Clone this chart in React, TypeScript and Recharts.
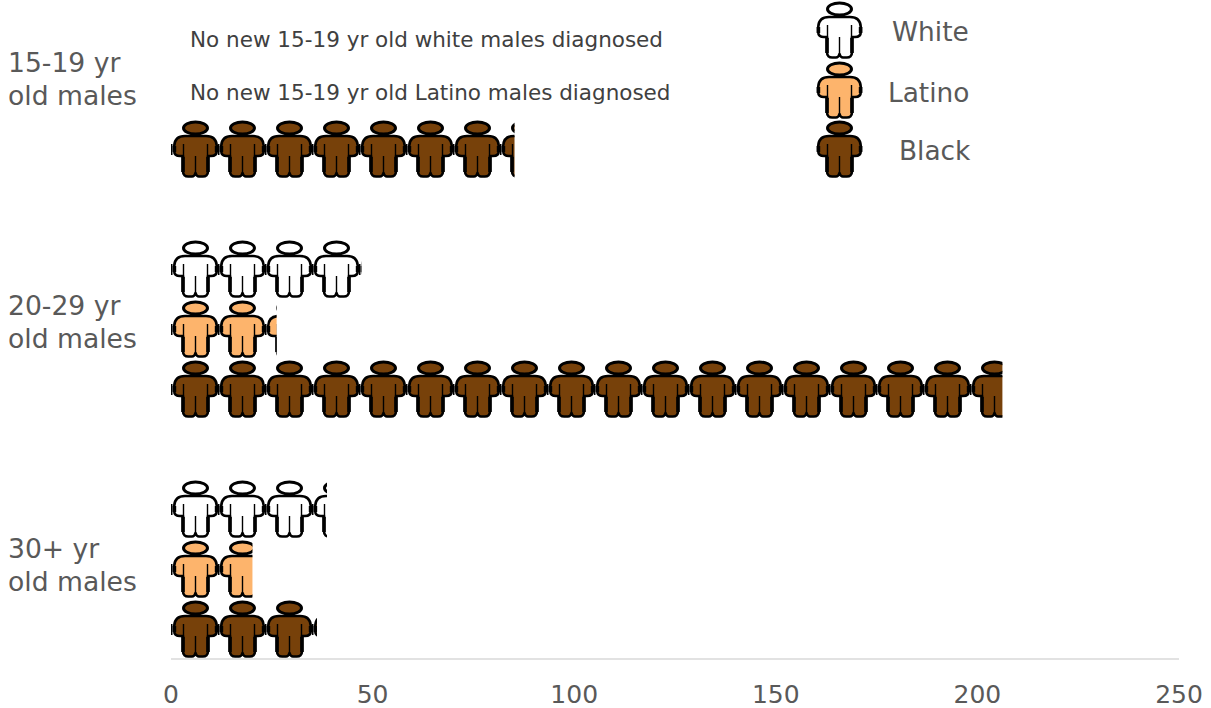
import { useId } from 'react'
import { BarChart, Bar, XAxis, YAxis, Legend } from 'recharts'

const ageGroups = ['15-19 yr|old males', '20-29 yr|old males', '30+ yr|old males']
const ageLabelShift = [-1.5, 2, 4.5]
const whiteCases = [0, 47.2, 38.7]
const latinoCases = [0, 26.2, 20.2]
const blackCases = [85.2, 206.2, 36.2]
const xTicks = [0, 50, 100, 150, 200, 250]
const noteLines = [
  'No new 15-19 yr old white males diagnosed',
  'No new 15-19 yr old Latino males diagnosed',
]

const WHITE = '#ffffff'
const LATINO = '#fdb46c'
const BLACK = '#77410a'
const TEXT = '#595959'
const FONT = '"DejaVu Sans", Verdana, sans-serif'
const ICON_STEP = 47

const data = ageGroups.map((group, i) => ({
  group,
  white: whiteCases[i],
  latino: latinoCases[i],
  black: blackCases[i],
}))

function Person({ x, y, fill }: { x: number; y: number; fill: string }) {
  return (
    <g transform={`translate(${x},${y})`}>
      <ellipse cx={24.5} cy={9} rx={12} ry={6} fill={fill} stroke="#000" strokeWidth={3} />
      <path
        d="M14 17H35C42 17 45.5 21 45.8 27V32Q45.8 37 40 37H37V52Q37 58 31 57.5H28Q25.5 57.5 24.5 54Q23.5 57.5 21 57.5H18Q12 58 12 52V37H9Q3.2 37 3.2 32V27C3.5 21 7 17 14 17Z"
        fill={fill}
        stroke="#000"
        strokeWidth={2.6}
        strokeLinejoin="round"
      />
      <path d="M12.5 25V40M36.5 25V40M24.5 37V54" fill="none" stroke="#000" strokeWidth={1.4} />
      <path d="M12 38V53M37 38V53M3.4 27V33M45.6 27V33" fill="none" stroke="#000" strokeWidth={3.6} />
    </g>
  )
}

// repeats the figure along the bar and cuts it off at the bar's end
function PersonBar(props: any) {
  const { x, y, width, height, fill } = props
  const clipId = useId()
  if (!width) return null
  const count = Math.ceil(width / ICON_STEP)
  return (
    <g clipPath={`url(#${clipId})`}>
      <defs>
        <clipPath id={clipId}>
          <rect x={x} y={y} width={width} height={height} />
        </clipPath>
      </defs>
      {Array.from({ length: count }, (_, i) => (
        <g key={i}>
          <rect x={x + i * ICON_STEP} y={y + 25} width={1.5} height={11} fill="#000" />
          <Person x={x + i * ICON_STEP} y={y} fill={fill} />
        </g>
      ))}
    </g>
  )
}

function AgeTick({ y, index, payload }: any) {
  const [first, second] = String(payload.value).split('|')
  return (
    <text x={8} y={y + 22 + ageLabelShift[index]} fontFamily={FONT} fontSize={26.6} fill={TEXT}>
      <tspan x={8} dy={-8}>{first}</tspan>
      <tspan x={8} dy={33}>{second}</tspan>
    </text>
  )
}

const legendTextX: Record<string, number> = { White: 892, Latino: 888, Black: 899 }
const legendRowY: Record<string, number> = { White: 0, Latino: 60, Black: 119 }
const legendTextY: Record<string, number> = { White: 41, Latino: 102, Black: 160 }

function PersonLegend({ payload }: any) {
  const items = (payload || []).filter((item: any) => item.value in legendRowY)
  return (
    <svg width={1211} height={185} style={{ display: 'block' }}>
      {items.map((item: any) => (
        <g key={item.value}>
          <Person x={815} y={legendRowY[item.value]} fill={item.color} />
          <text x={legendTextX[item.value]} y={legendTextY[item.value]} fontFamily={FONT} fontSize={26.4} fill={TEXT}>
            {item.value}
          </text>
        </g>
      ))}
    </svg>
  )
}

const noteStyle = {
  position: 'absolute',
  left: 190,
  fontFamily: FONT,
  fontSize: 21.5,
  color: '#404040',
  whiteSpace: 'nowrap',
} as const

export default function App() {
  return (
    <div style={{ position: 'absolute', left: 0, top: -61, width: 1211, height: 769, background: '#fff' }}>
      <BarChart
        width={1211}
        height={769}
        data={data}
        layout="vertical"
        barGap={0}
        barCategoryGap={0}
        margin={{ top: 0, right: 32, bottom: 0, left: 0 }}
      >
        <XAxis
          type="number"
          domain={[0, 250]}
          ticks={xTicks}
          interval={0}
          tickLine={false}
          axisLine={{ stroke: '#d9d9d9', strokeWidth: 1.5 }}
          tick={{ fill: TEXT, fontSize: 25, fontFamily: FONT }}
          tickMargin={20}
          height={49}
        />
        <YAxis type="category" dataKey="group" width={171} axisLine={false} tickLine={false} tick={<AgeTick />} />
        <Legend
          content={<PersonLegend />}
          layout="horizontal"
          verticalAlign="middle"
          wrapperStyle={{ position: 'absolute', left: 0, top: 61, width: 1211, margin: 0 }}
        />
        {/* empty slot above each group of rows */}
        <Bar dataKey="gap" legendType="none" isAnimationActive={false} />
        <Bar dataKey="white" name="White" fill={WHITE} shape={<PersonBar />} isAnimationActive={false} />
        <Bar dataKey="latino" name="Latino" fill={LATINO} shape={<PersonBar />} isAnimationActive={false} />
        <Bar dataKey="black" name="Black" fill={BLACK} shape={<PersonBar />} isAnimationActive={false} />
      </BarChart>
      <div style={{ ...noteStyle, top: 88 }}>{noteLines[0]}</div>
      <div style={{ ...noteStyle, top: 141 }}>{noteLines[1]}</div>
    </div>
  )
}
